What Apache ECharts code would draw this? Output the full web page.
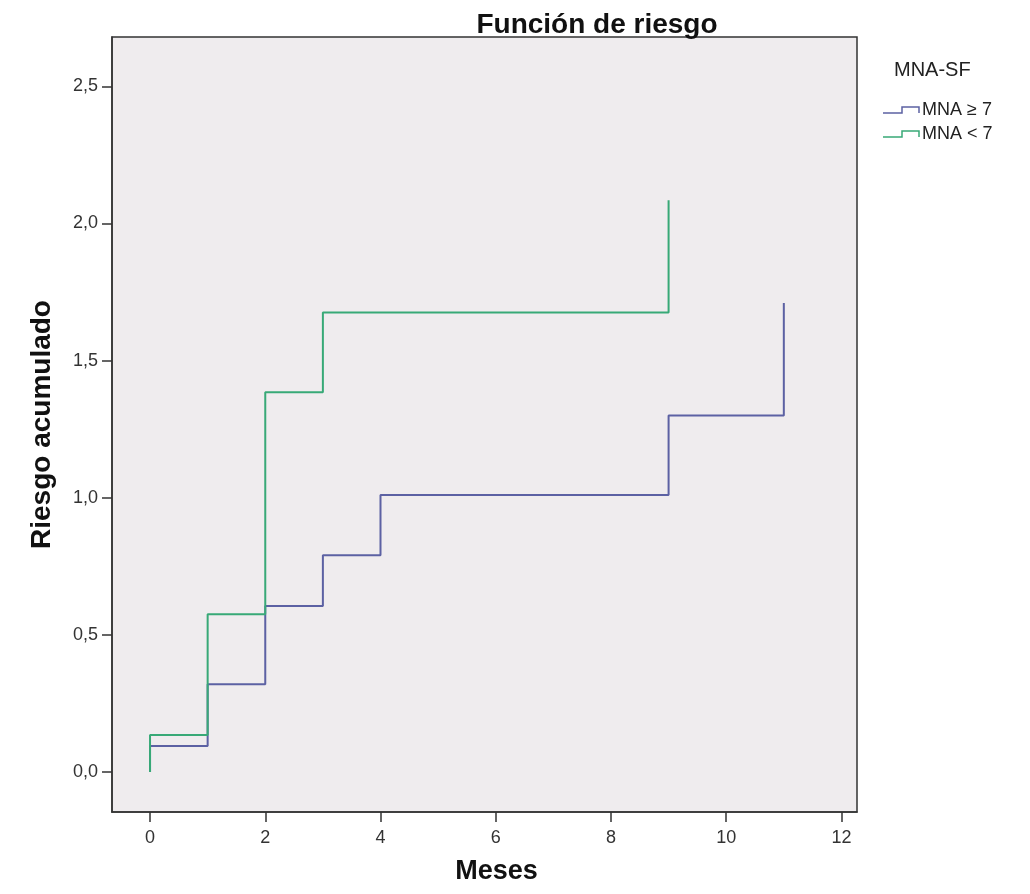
<!DOCTYPE html>
<html>
<head>
    <meta charset="UTF-8">
    <title>Función de riesgo</title>
    <script src="https://cdn.jsdelivr.net/npm/echarts@6/dist/echarts.min.js"></script>
    <style>
        html, body { margin: 0; padding: 0; background: #fff; }
        #chart { width: 1030px; height: 894px; }
    </style>
</head>
<body>
    <div id="chart"></div>
    <script>
        // datos (meses, riesgo acumulado)
        var mesesAlto = [0, 0, 1, 2, 3, 4, 9, 11];
        var riesgoAlto = [0, 0.095, 0.32, 0.605, 0.79, 1.01, 1.30, 1.71];
        var mesesBajo = [0, 0, 1, 2, 3, 9];
        var riesgoBajo = [0, 0.135, 0.575, 1.385, 1.675, 2.085];
        var xTicks = [0, 2, 4, 6, 8, 10, 12];
        var yTicks = [0, 0.5, 1, 1.5, 2, 2.5];
        var nombres = ['MNA \u2265 7', 'MNA < 7'];
        var colores = ['#5c61a3', '#38a977'];

        function pares(xs, ys) {
            return xs.map(function (x, i) { return [x, ys[i]]; });
        }

        // leyenda dibujada a mano (icono escalonado como en SPSS)
        var leyenda = [{
            type: 'text', left: 894, top: 60,
            style: { text: 'MNA-SF', font: '20px Liberation Sans, Arial', fill: '#222' }
        }];
        nombres.forEach(function (n, i) {
            var y = 113 + i * 24;
            leyenda.push({
                type: 'polyline',
                shape: { points: [[883, y], [902, y], [902, y - 6], [919, y - 6], [919, y]] },
                style: { stroke: colores[i], lineWidth: 1.5, fill: null }
            });
            leyenda.push({
                type: 'text', left: 922, top: y - 12,
                style: { text: n, font: '18px Liberation Sans, Arial', fill: '#222' }
            });
        });

        var option = {
            backgroundColor: '#fff',
            animation: false,
            title: {
                text: 'Función de riesgo',
                left: 592,
                top: 6,
                textAlign: 'center',
                textStyle: {
                    fontFamily: 'Liberation Sans, Arial',
                    fontSize: 28, fontWeight: 'bold', color: '#111'
                }
            },
            grid: {
                left: 112, top: 37, width: 745, height: 775,
                show: true, backgroundColor: '#efecee',
                borderColor: '#333', borderWidth: 1.5
            },
            graphic: leyenda,
            xAxis: {
                type: 'value', min: -0.66, max: 12.27,
                name: 'Meses', nameLocation: 'middle', nameGap: 46,
                nameTextStyle: {
                    fontFamily: 'Liberation Sans, Arial', fontSize: 27, fontWeight: 'bold', color: '#111',
                    padding: [0, 0, 0, 24]
                },
                splitLine: { show: false },
                axisLine: { show: true, onZero: false, lineStyle: { color: '#333', width: 1.5 } },
                axisTick: { show: true, customValues: xTicks, length: 10, lineStyle: { color: '#333', width: 1.5 } },
                axisLabel: { customValues: xTicks, fontFamily: 'Liberation Sans, Arial', fontSize: 18, color: '#333', margin: 17 }
            },
            yAxis: {
                type: 'value', min: -0.146, max: 2.68,
                name: 'Riesgo acumulado', nameLocation: 'middle', nameGap: 56, nameRotate: 90,
                nameTextStyle: { fontFamily: 'Liberation Sans, Arial', fontSize: 28, fontWeight: 'bold', color: '#111' },
                splitLine: { show: false },
                axisLine: { show: true, onZero: false, lineStyle: { color: '#333', width: 1.5 } },
                axisTick: { show: true, customValues: yTicks, length: 10, lineStyle: { color: '#333', width: 1.5 } },
                axisLabel: {
                    customValues: yTicks, fontFamily: 'Liberation Sans, Arial', fontSize: 18, color: '#333', margin: 14,
                    formatter: function (v) { return v.toFixed(1).replace('.', ','); }
                }
            },
            series: [
                {
                    name: nombres[0], type: 'line', step: 'end', showSymbol: false,
                    data: pares(mesesAlto, riesgoAlto),
                    itemStyle: { color: colores[0] },
                    lineStyle: { color: colores[0], width: 2 }
                },
                {
                    name: nombres[1], type: 'line', step: 'end', showSymbol: false,
                    data: pares(mesesBajo, riesgoBajo),
                    itemStyle: { color: colores[1] },
                    lineStyle: { color: colores[1], width: 2 }
                }
            ]
        };

        var myChart = echarts.init(document.getElementById('chart'));
        myChart.setOption(option);
    </script>
</body>
</html>
